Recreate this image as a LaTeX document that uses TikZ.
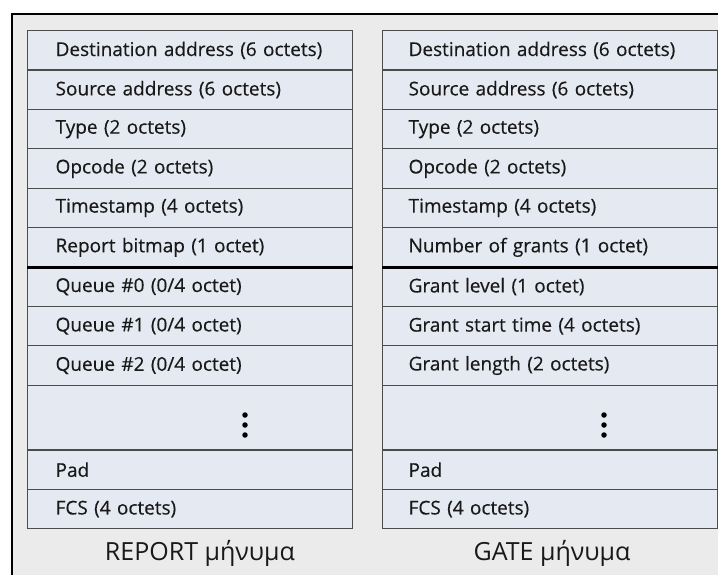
\documentclass[tikz,border=0pt]{standalone}
\usepackage{fontspec}
\setmainfont{Open Sans}
\newfontfamily\fieldfont[FakeBold=0.4]{Open Sans}
\begin{document}
\begin{tikzpicture}[x=1pt,y=-1pt,
  framebg/.style={fill=black!8, draw=black, line width=2.2pt},
  field/.style={draw=black!70, line width=1.2pt, fill=fieldblue, anchor=north west,
    minimum height=39.4pt, inner xsep=0pt, inner ysep=0pt,
    text=black!90, font=\fieldfont\fontsize{19}{22}\selectfont},
  lfield/.style={field, minimum width=325pt, text width=325pt, align=left},
  rfield/.style={field, minimum width=335pt, text width=335pt, align=left},
  caption/.style={font=\fontsize{25}{29}\selectfont, text=black!90},
  dot/.style={circle, fill=black, inner sep=0pt, minimum size=5.5pt}
]
\definecolor{fieldblue}{HTML}{E5EAF2}
\useasboundingbox (0,0) rectangle (718,574);
\fill[white] (0,0) rectangle (718,574);
% outer frame, running off the right and bottom edges
\begin{scope}
\clip (0,0) rectangle (718,574);
\draw[framebg] (12,14) rectangle (730,590);
\end{scope}

% REPORT message fields
\node[lfield] (l1) at (27,30) {\hspace*{28pt}Destination address (6 octets)};
\node[lfield] (l2) at (27,69.4) {\hspace*{28pt}Source address (6 octets)};
\node[lfield] (l3) at (27,108.8) {\hspace*{28pt}Type (2 octets)};
\node[lfield] (l4) at (27,148.2) {\hspace*{28pt}Opcode (2 octets)};
\node[lfield] (l5) at (27,187.6) {\hspace*{28pt}Timestamp (4 octets)};
\node[lfield] (l6) at (27,227) {\hspace*{28pt}Report bitmap (1 octet)};
\node[lfield] (l7) at (27,266.4) {\hspace*{28pt}Queue \#0 (0/4 octet)};
\node[lfield] (l8) at (27,305.8) {\hspace*{28pt}Queue \#1 (0/4 octet)};
\node[lfield] (l9) at (27,345.2) {\hspace*{28pt}Queue \#2 (0/4 octet)};
\node[lfield, minimum height=64.8pt] (l10) at (27,384.6) {};
\node[lfield] (l11) at (27,449.4) {\hspace*{28pt}Pad};
\node[lfield] (l12) at (27,488.8) {\hspace*{28pt}FCS (4 octets)};
\draw[line width=2.4pt, black] (l6.south west) -- (l6.south east);
\node[dot] (ld1) at (245,415) {};
\node[dot] (ld2) at (245,425) {};
\node[dot] (ld3) at (245,435) {};
\node[caption] (lcap) at (200,553) {REPORT μήνυμα};

% GATE message fields
\node[rfield] (r1) at (382,30) {\hspace*{26pt}Destination address (6 octets)};
\node[rfield] (r2) at (382,69.4) {\hspace*{26pt}Source address (6 octets)};
\node[rfield] (r3) at (382,108.8) {\hspace*{26pt}Type (2 octets)};
\node[rfield] (r4) at (382,148.2) {\hspace*{26pt}Opcode (2 octets)};
\node[rfield] (r5) at (382,187.6) {\hspace*{26pt}Timestamp (4 octets)};
\node[rfield] (r6) at (382,227) {\hspace*{26pt}Number of grants (1 octet)};
\node[rfield] (r7) at (382,266.4) {\hspace*{26pt}Grant level (1 octet)};
\node[rfield] (r8) at (382,305.8) {\hspace*{26pt}Grant start time (4 octets)};
\node[rfield] (r9) at (382,345.2) {\hspace*{26pt}Grant length (2 octets)};
\node[rfield, minimum height=64.8pt] (r10) at (382,384.6) {};
\node[rfield] (r11) at (382,449.4) {\hspace*{26pt}Pad};
\node[rfield] (r12) at (382,488.8) {\hspace*{26pt}FCS (4 octets)};
\draw[line width=2.4pt, black] (r6.south west) -- (r6.south east);
\node[dot] (rd1) at (604,415) {};
\node[dot] (rd2) at (604,425) {};
\node[dot] (rd3) at (604,435) {};
\node[caption] (rcap) at (552,553) {GATE μήνυμα};
\end{tikzpicture}
\end{document}
